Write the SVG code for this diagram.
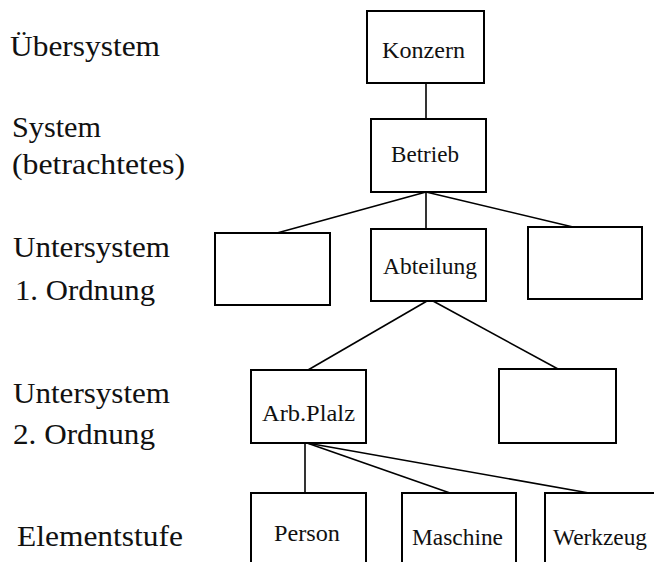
<svg xmlns="http://www.w3.org/2000/svg" width="654" height="562" viewBox="0 0 654 562">
<style>
.box{fill:#fff;stroke:#000;stroke-width:2}
.con{stroke:#000;stroke-width:1.6;fill:none}
text{font-family:"Times New Roman",Times,"Liberation Serif","DejaVu Serif",serif;fill:#111}
.lbl{font-size:30px}
.txt{font-size:23px}
</style>
<rect width="654" height="562" fill="#fff"/>
<g id="labels">
<text class="lbl" x="10" y="56" textLength="150" lengthAdjust="spacingAndGlyphs">Übersystem</text>
<text class="lbl" x="12" y="137" textLength="89" lengthAdjust="spacingAndGlyphs">System</text>
<text class="lbl" x="12" y="174" textLength="173" lengthAdjust="spacingAndGlyphs">(betrachtetes)</text>
<text class="lbl" x="13" y="257" textLength="157" lengthAdjust="spacingAndGlyphs">Untersystem</text>
<text class="lbl" x="15" y="300" textLength="140" lengthAdjust="spacingAndGlyphs">1. Ordnung</text>
<text class="lbl" x="13" y="403" textLength="157" lengthAdjust="spacingAndGlyphs">Untersystem</text>
<text class="lbl" x="13" y="444" textLength="142" lengthAdjust="spacingAndGlyphs">2. Ordnung</text>
<text class="lbl" x="17" y="546" textLength="166" lengthAdjust="spacingAndGlyphs">Elementstufe</text>
</g>
<g id="connectors">
<line class="con" x1="426" y1="83" x2="426" y2="119"/>
<line class="con" x1="426" y1="192" x2="426" y2="229"/>
<line class="con" x1="426" y1="192" x2="277" y2="233"/>
<line class="con" x1="426" y1="192" x2="573" y2="227"/>
<line class="con" x1="427" y1="301" x2="308" y2="370"/>
<line class="con" x1="433" y1="301" x2="558" y2="369"/>
<line class="con" x1="305" y1="443" x2="305" y2="493"/>
<line class="con" x1="307" y1="443" x2="450" y2="493"/>
<line class="con" x1="307" y1="443" x2="589" y2="493"/>
</g>
<g id="konzern"><rect class="box" x="367" y="11" width="117" height="72"/><text class="txt" x="382" y="58" textLength="83" lengthAdjust="spacingAndGlyphs">Konzern</text></g>
<g id="betrieb"><rect class="box" x="371" y="119" width="115" height="73"/><text class="txt" x="391" y="162" textLength="68" lengthAdjust="spacingAndGlyphs">Betrieb</text></g>
<g id="leer1"><rect class="box" x="215" y="233" width="115" height="72"/></g>
<g id="abteilung"><rect class="box" x="371" y="229" width="115" height="72"/><text class="txt" x="383" y="274" textLength="94" lengthAdjust="spacingAndGlyphs">Abteilung</text></g>
<g id="leer2"><rect class="box" x="528" y="227" width="114" height="72"/></g>
<g id="arbplatz"><rect class="box" x="251" y="370" width="115" height="73"/><text class="txt" x="262" y="421" textLength="93" lengthAdjust="spacingAndGlyphs">Arb.Plalz</text></g>
<g id="leer3"><rect class="box" x="499" y="369" width="117" height="74"/></g>
<g id="person"><rect class="box" x="251" y="493" width="115" height="80"/><text class="txt" x="274" y="541" textLength="66" lengthAdjust="spacingAndGlyphs">Person</text></g>
<g id="maschine"><rect class="box" x="402" y="493" width="114" height="80"/><text class="txt" x="412" y="545" textLength="91" lengthAdjust="spacingAndGlyphs">Maschine</text></g>
<g id="werkzeug"><rect class="box" x="545" y="493" width="120" height="80"/><text class="txt" x="553" y="545" textLength="94" lengthAdjust="spacingAndGlyphs">Werkzeug</text></g>
</svg>
